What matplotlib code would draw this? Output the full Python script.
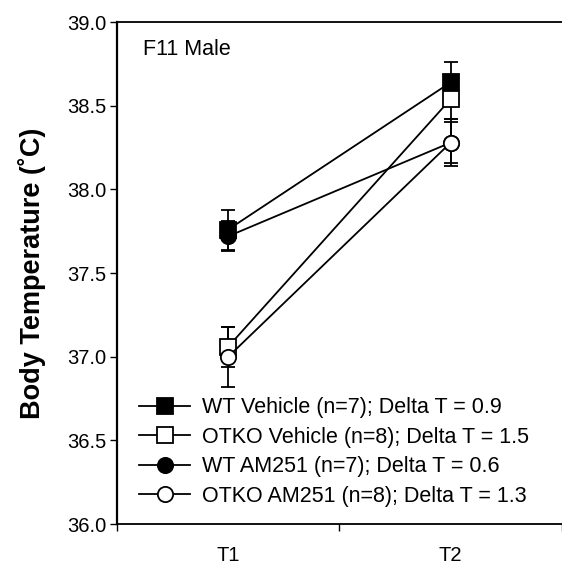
import matplotlib.pyplot as plt
from matplotlib.lines import Line2D

plt.rcParams["font.family"] = ["Liberation Sans", "DejaVu Sans"]

# DATA
timepoints = [1, 2]
time_labels = ["T1", "T2"]

wt_vehicle = [37.76, 38.64]
wt_vehicle_err = [0.12, 0.12]

otko_vehicle = [37.06, 38.54]
otko_vehicle_err = [0.12, 0.12]

wt_am251 = [37.72, 38.28]
wt_am251_err = [0.09, 0.12]

otko_am251 = [37.00, 38.28]
otko_am251_err = [0.18, 0.14]

labels = [
    "WT Vehicle (n=7); Delta T = 0.9",
    "OTKO Vehicle (n=8); Delta T = 1.5",
    "WT AM251 (n=7); Delta T = 0.6",
    "OTKO AM251 (n=8); Delta T = 1.3",
]


# PLOT

fig = plt.figure(figsize=(5.62, 5.66), dpi=100)
ax = fig.add_axes([0.208, 0.074, 0.792, 0.887])

series = [
    (wt_vehicle, wt_vehicle_err, "s", "black"),
    (otko_vehicle, otko_vehicle_err, "s", "white"),
    (wt_am251, wt_am251_err, "o", "black"),
    (otko_am251, otko_am251_err, "o", "white"),
]

handles = []
for (vals, errs, marker, face), label in zip(series, labels):
    ax.errorbar(timepoints, vals, yerr=errs, color="black", lw=1.3,
                marker=marker, markersize=11, markerfacecolor=face,
                markeredgecolor="black", markeredgewidth=1.3,
                capsize=5, capthick=1.3, elinewidth=1.3, zorder=3)
    handles.append(Line2D([], [], color="black", lw=1.3, marker=marker,
                          markersize=11, markerfacecolor=face,
                          markeredgecolor="black", markeredgewidth=1.3,
                          label=label))

ax.set_xlim(0.5, 2.5)
ax.set_ylim(36.0, 39.0)
ax.set_yticks([36.0, 36.5, 37.0, 37.5, 38.0, 38.5, 39.0])
ax.set_yticklabels([f"{v:.1f}" for v in ax.get_yticks()])

# tick marks between groups, labels under the points
ax.set_xticks([0.5, 1.5, 2.5])
ax.set_xticklabels([])
ax.set_xticks(timepoints, minor=True)
ax.set_xticklabels(time_labels, minor=True)
ax.tick_params(axis="x", which="minor", length=0, pad=16, labelsize=14.5)
ax.tick_params(axis="both", which="major", direction="out", length=5,
               width=1, pad=2.5, labelsize=14.5)

ax.spines["right"].set_visible(False)
ax.spines["left"].set_linewidth(1.6)
ax.spines["bottom"].set_linewidth(1.3)
ax.spines["top"].set_linewidth(1.3)

ax.set_ylabel("Body Temperature (\u02daC)", fontsize=19.5, fontweight="bold",
              labelpad=15)

ax.text(0.058, 0.945, "F11 Male", transform=ax.transAxes, fontsize=15.5,
        ha="left", va="center")

ax.legend(handles=handles, loc="lower left", bbox_to_anchor=(0.049, 0.035),
          frameon=False, fontsize=15.5, handlelength=2.4, handletextpad=0.55,
          labelspacing=0.39, borderaxespad=0, borderpad=0)

fig.savefig("out.png", dpi=100)
